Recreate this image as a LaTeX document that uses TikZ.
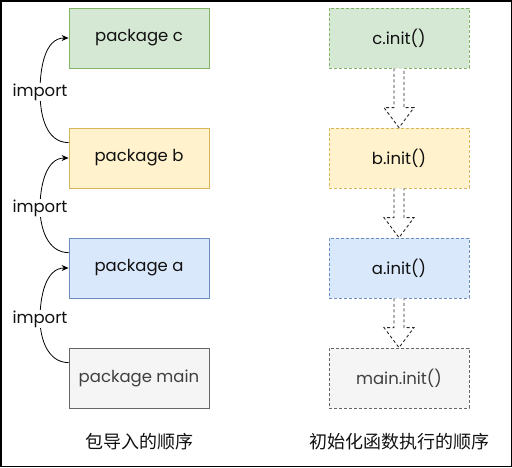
\documentclass[tikz,border=0pt]{standalone}
\usepackage{fontspec}
\setmainfont{Poppins}
\newfontfamily\cjk{Noto Sans CJK SC}
\usetikzlibrary{arrows.meta,calc}
\definecolor{gfill}{HTML}{D5E8D4}\definecolor{gline}{HTML}{82B366}
\definecolor{yfill}{HTML}{FFF2CC}\definecolor{yline}{HTML}{D6B656}
\definecolor{bfill}{HTML}{DAE8FC}\definecolor{bline}{HTML}{6C8EBF}
\definecolor{wfill}{HTML}{F5F5F5}\definecolor{wline}{HTML}{666666}
\definecolor{txt}{HTML}{111111}
\begin{document}
\begin{tikzpicture}[x=1pt,y=-1pt,
  pbox/.style={draw,minimum width=140pt,minimum height=60pt,inner sep=0pt,font=\fontsize{16.5}{18}\selectfont,text=txt,line width=0.8pt},
  dbox/.style={pbox,dashed,dash pattern=on 3pt off 2pt},
  lbl/.style={fill=white,inner sep=1pt,font=\fontsize{16.5}{18}\selectfont,text=txt},
  imp/.style={line width=0.8pt,-{Stealth[length=7pt,width=6pt]}},
  hollow/.style={draw=black!85,fill=white,dashed,dash pattern=on 3pt off 2.5pt,line width=0.9pt,line join=miter},
  ttl/.style={font=\cjk\fontsize{18}{20}\selectfont,text=txt}]
\draw[line width=1.5pt] (0.75,0.75) rectangle (511.25,466.25);
% left column
\node[pbox,fill=gfill,draw=gline] (c) at (139,38) {package c};
\node[pbox,fill=yfill,draw=yline] (b) at (139,158) {package b};
\node[pbox,fill=bfill,draw=bline] (a) at (139,268) {package a};
\node[pbox,fill=wfill,draw=wline,text=black!75] (m) at (139,378) {package main};
% right column
\node[dbox,fill=gfill,draw=gline] (c2) at (399,38) {c.init()};
\node[dbox,fill=yfill,draw=yline] (b2) at (399,158) {b.init()};
\node[dbox,fill=bfill,draw=bline] (a2) at (399,268) {a.init()};
\node[dbox,fill=wfill,draw=wline,text=black!75] (m2) at (399,378) {main.init()};
% import curves
\coordinate (k1) at (40,92);
\coordinate (k2) at (40,208);
\coordinate (k3) at (40,319);
\draw[imp] ([yshift=-15pt]b.north west) to[out=180,in=-90] (k1) to[out=90,in=180] (c.west);
\draw[imp] ([yshift=-15pt]a.north west) to[out=180,in=-90] (k2) to[out=90,in=180] (b.west);
\draw[imp] ([yshift=-15pt]m.north west) to[out=180,in=-90] (k3) to[out=90,in=180] (a.west);
\node[lbl] (l1) at (k1) {import};
\node[lbl] (l2) at (k2) {import};
\node[lbl] (l3) at (k3) {import};
% hollow arrows
\foreach \u/\v in {c2/b2,b2/a2,a2/m2}{
  \draw[hollow] ([xshift=-5pt]\u.south) -- ([xshift=-5pt,yshift=20pt]\v.north) -- ([xshift=-15pt,yshift=20pt]\v.north) -- (\v.north) -- ([xshift=15pt,yshift=20pt]\v.north) -- ([xshift=5pt,yshift=20pt]\v.north) -- ([xshift=5pt]\u.south);
}
% titles
\node[ttl] (t1) at (139,442) {包导入的顺序};
\node[ttl] (t2) at (399,442) {初始化函数执行的顺序};
\end{tikzpicture}
\end{document}
